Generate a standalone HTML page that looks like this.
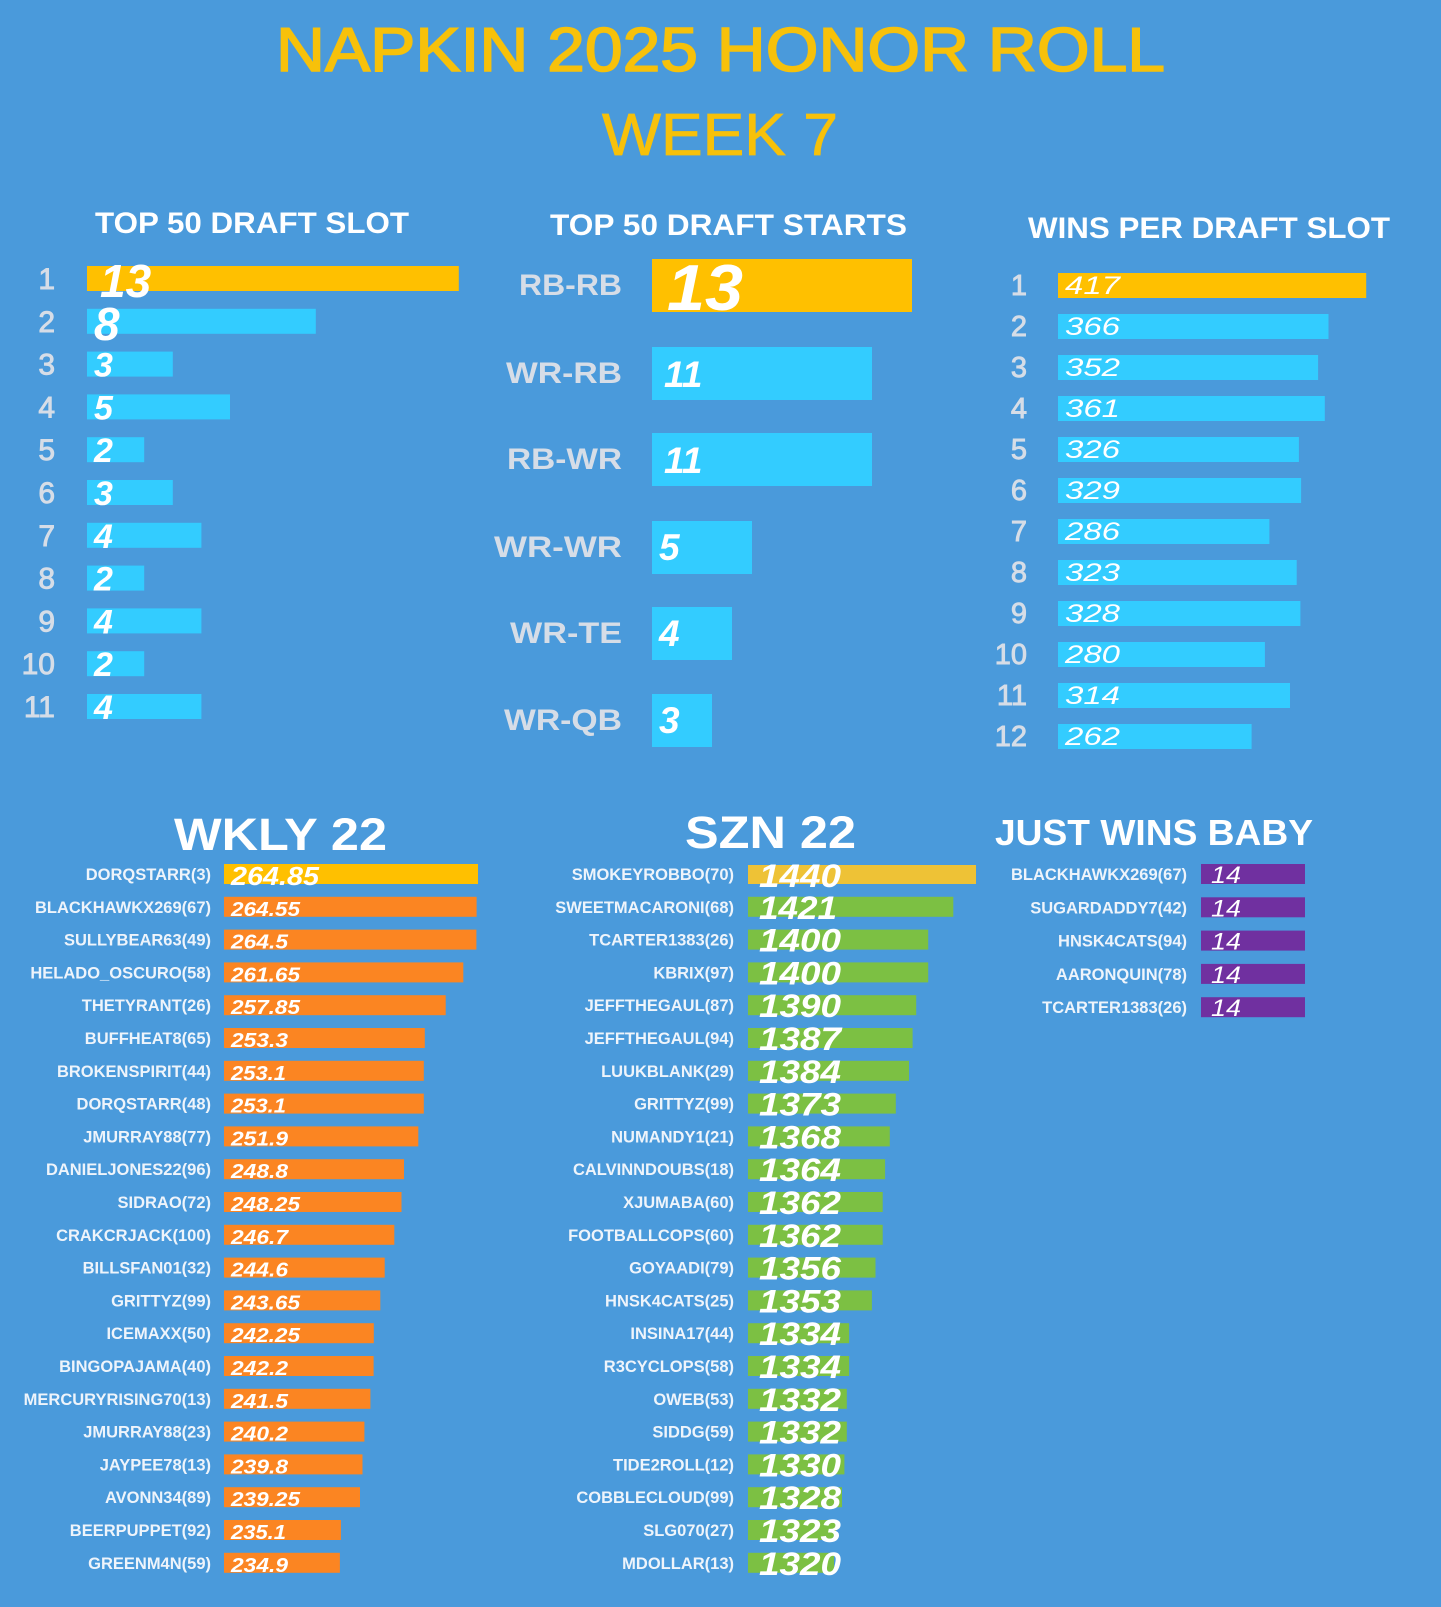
<!DOCTYPE html>
<html><head><meta charset="utf-8">
<style>
html,body{margin:0;padding:0;background:#4a9adb;}
svg{display:block;}
text{font-family:"Liberation Sans",sans-serif;}
.h{fill:#ffffff;font-weight:bold;}
.lg{fill:#d6dde7;font-weight:bold;}
.ln{fill:#d6dde7;stroke:#d6dde7;stroke-width:0.9;}
.v{fill:#ffffff;font-style:italic;font-weight:bold;}
.vr{fill:#ffffff;font-style:italic;}
.bl{fill:#eef4fb;font-weight:bold;font-size:16.5px;}
</style></head>
<body>
<svg width="1441" height="1607" viewBox="0 0 1441 1607" xmlns="http://www.w3.org/2000/svg">
<rect width="1441" height="1607" fill="#4a9adb"/>

<!-- Titles -->
<text x="276" y="71" font-size="62" fill="#f7c10a" stroke="#f7c10a" stroke-width="1.6" textLength="889" lengthAdjust="spacingAndGlyphs">NAPKIN 2025 HONOR ROLL</text>
<text x="602" y="155" font-size="59" fill="#f7c10a" stroke="#f7c10a" stroke-width="0.8" textLength="236" lengthAdjust="spacingAndGlyphs">WEEK 7</text>

<text class="h" x="95" y="233" font-size="30" textLength="314" lengthAdjust="spacingAndGlyphs">TOP 50 DRAFT SLOT</text>
<text class="h" x="550" y="235" font-size="30" textLength="357" lengthAdjust="spacingAndGlyphs">TOP 50 DRAFT STARTS</text>
<text class="h" x="1028" y="238" font-size="30" textLength="362" lengthAdjust="spacingAndGlyphs">WINS PER DRAFT SLOT</text>

<!-- Left chart: TOP 50 DRAFT SLOT -->
<g>
<rect x="87" y="266" width="371.8" height="25" fill="#ffc000"/>
<rect x="87" y="308.8" width="228.8" height="25" fill="#33ccff"/>
<rect x="87" y="351.6" width="85.8" height="25" fill="#33ccff"/>
<rect x="87" y="394.4" width="143" height="25" fill="#33ccff"/>
<rect x="87" y="437.2" width="57.2" height="25" fill="#33ccff"/>
<rect x="87" y="480" width="85.8" height="25" fill="#33ccff"/>
<rect x="87" y="522.8" width="114.4" height="25" fill="#33ccff"/>
<rect x="87" y="565.6" width="57.2" height="25" fill="#33ccff"/>
<rect x="87" y="608.4" width="114.4" height="25" fill="#33ccff"/>
<rect x="87" y="651.2" width="57.2" height="25" fill="#33ccff"/>
<rect x="87" y="694" width="114.4" height="25" fill="#33ccff"/>
</g>
<g class="ln" font-size="30" text-anchor="end">
<text x="55" y="289">1</text>
<text x="55" y="331.8">2</text>
<text x="55" y="374.6">3</text>
<text x="55" y="417.4">4</text>
<text x="55" y="460.2">5</text>
<text x="55" y="503">6</text>
<text x="55" y="545.8">7</text>
<text x="55" y="588.6">8</text>
<text x="55" y="631.4">9</text>
<text x="55" y="674.2">10</text>
<text x="55" y="717">11</text>
</g>
<g class="v">
<text x="100" y="297" font-size="46">13</text>
<text x="94" y="339.8" font-size="46">8</text>
<text x="94" y="376.6" font-size="34">3</text>
<text x="94" y="419.4" font-size="34">5</text>
<text x="94" y="462.2" font-size="34">2</text>
<text x="94" y="505" font-size="34">3</text>
<text x="94" y="547.8" font-size="34">4</text>
<text x="94" y="590.6" font-size="34">2</text>
<text x="94" y="633.4" font-size="34">4</text>
<text x="94" y="676.2" font-size="34">2</text>
<text x="94" y="719" font-size="34">4</text>
</g>

<!-- Middle chart: TOP 50 DRAFT STARTS -->
<rect x="652" y="259" width="260" height="53" fill="#ffc000"/>
<rect x="652" y="347" width="220" height="53" fill="#33ccff"/>
<rect x="652" y="433" width="220" height="53" fill="#33ccff"/>
<rect x="652" y="521" width="100" height="53" fill="#33ccff"/>
<rect x="652" y="607" width="80" height="53" fill="#33ccff"/>
<rect x="652" y="694" width="60" height="53" fill="#33ccff"/>
<g class="lg" font-size="30">
<text x="519" y="295" textLength="103" lengthAdjust="spacingAndGlyphs">RB-RB</text>
<text x="506" y="383" textLength="116" lengthAdjust="spacingAndGlyphs">WR-RB</text>
<text x="507" y="469" textLength="115" lengthAdjust="spacingAndGlyphs">RB-WR</text>
<text x="494" y="557" textLength="128" lengthAdjust="spacingAndGlyphs">WR-WR</text>
<text x="510" y="643" textLength="112" lengthAdjust="spacingAndGlyphs">WR-TE</text>
<text x="504" y="730" textLength="118" lengthAdjust="spacingAndGlyphs">WR-QB</text>
</g>
<g class="v">
<text x="667" y="310" font-size="65" textLength="76" lengthAdjust="spacingAndGlyphs">13</text>
<text x="664" y="387" font-size="37">11</text>
<text x="664" y="473" font-size="37">11</text>
<text x="659" y="560" font-size="37">5</text>
<text x="659" y="646" font-size="37">4</text>
<text x="659" y="733" font-size="37">3</text>
</g>

<!-- Right chart: WINS PER DRAFT SLOT -->
<rect x="1058" y="273" width="308.2" height="25" fill="#ffc000"/>
<rect x="1058" y="314" width="270.5" height="25" fill="#33ccff"/>
<rect x="1058" y="355" width="260.1" height="25" fill="#33ccff"/>
<rect x="1058" y="396" width="266.8" height="25" fill="#33ccff"/>
<rect x="1058" y="437" width="240.9" height="25" fill="#33ccff"/>
<rect x="1058" y="478" width="243.1" height="25" fill="#33ccff"/>
<rect x="1058" y="519" width="211.4" height="25" fill="#33ccff"/>
<rect x="1058" y="560" width="238.7" height="25" fill="#33ccff"/>
<rect x="1058" y="601" width="242.4" height="25" fill="#33ccff"/>
<rect x="1058" y="642" width="206.9" height="25" fill="#33ccff"/>
<rect x="1058" y="683" width="232" height="25" fill="#33ccff"/>
<rect x="1058" y="724" width="193.6" height="25" fill="#33ccff"/>
<g class="ln" font-size="29" text-anchor="end">
<text x="1027" y="295">1</text>
<text x="1027" y="336">2</text>
<text x="1027" y="377">3</text>
<text x="1027" y="418">4</text>
<text x="1027" y="459">5</text>
<text x="1027" y="500">6</text>
<text x="1027" y="541">7</text>
<text x="1027" y="582">8</text>
<text x="1027" y="623">9</text>
<text x="1027" y="664">10</text>
<text x="1027" y="705">11</text>
<text x="1027" y="746">12</text>
</g>
<g class="vr" font-size="25">
<text x="1065" y="294" textLength="55" lengthAdjust="spacingAndGlyphs">417</text>
<text x="1065" y="335" textLength="55" lengthAdjust="spacingAndGlyphs">366</text>
<text x="1065" y="376" textLength="55" lengthAdjust="spacingAndGlyphs">352</text>
<text x="1065" y="417" textLength="55" lengthAdjust="spacingAndGlyphs">361</text>
<text x="1065" y="458" textLength="55" lengthAdjust="spacingAndGlyphs">326</text>
<text x="1065" y="499" textLength="55" lengthAdjust="spacingAndGlyphs">329</text>
<text x="1065" y="540" textLength="55" lengthAdjust="spacingAndGlyphs">286</text>
<text x="1065" y="581" textLength="55" lengthAdjust="spacingAndGlyphs">323</text>
<text x="1065" y="622" textLength="55" lengthAdjust="spacingAndGlyphs">328</text>
<text x="1065" y="663" textLength="55" lengthAdjust="spacingAndGlyphs">280</text>
<text x="1065" y="704" textLength="55" lengthAdjust="spacingAndGlyphs">314</text>
<text x="1065" y="745" textLength="55" lengthAdjust="spacingAndGlyphs">262</text>
</g>

<!-- Bottom headers -->
<text class="h" x="174" y="850" font-size="45" textLength="213" lengthAdjust="spacingAndGlyphs">WKLY 22</text>
<text class="h" x="685" y="848" font-size="45" textLength="171" lengthAdjust="spacingAndGlyphs">SZN 22</text>
<text class="h" x="995" y="845" font-size="36" textLength="318" lengthAdjust="spacingAndGlyphs">JUST WINS BABY</text>

<!-- WKLY 22 -->
<g>
<g transform="translate(0,864)"><rect x="224" y="0" width="254" height="20" fill="#ffc000"/><text class="bl" x="211" y="16" text-anchor="end">DORQSTARR(3)</text><text class="v" x="231" y="21" font-size="26" textLength="88" lengthAdjust="spacingAndGlyphs">264.85</text></g>
<g transform="translate(0,896.8)"><rect x="224" y="0" width="252.6" height="20" fill="#fb8522"/><text class="bl" x="211" y="16" text-anchor="end">BLACKHAWKX269(67)</text><text class="v" x="231" y="19" font-size="20" textLength="69" lengthAdjust="spacingAndGlyphs">264.55</text></g>
<g transform="translate(0,929.6)"><rect x="224" y="0" width="252.4" height="20" fill="#fb8522"/><text class="bl" x="211" y="16" text-anchor="end">SULLYBEAR63(49)</text><text class="v" x="231" y="19" font-size="20" textLength="57" lengthAdjust="spacingAndGlyphs">264.5</text></g>
<g transform="translate(0,962.4)"><rect x="224" y="0" width="239.3" height="20" fill="#fb8522"/><text class="bl" x="211" y="16" text-anchor="end">HELADO_OSCURO(58)</text><text class="v" x="231" y="19" font-size="20" textLength="69" lengthAdjust="spacingAndGlyphs">261.65</text></g>
<g transform="translate(0,995.2)"><rect x="224" y="0" width="221.7" height="20" fill="#fb8522"/><text class="bl" x="211" y="16" text-anchor="end">THETYRANT(26)</text><text class="v" x="231" y="19" font-size="20" textLength="69" lengthAdjust="spacingAndGlyphs">257.85</text></g>
<g transform="translate(0,1028)"><rect x="224" y="0" width="200.8" height="20" fill="#fb8522"/><text class="bl" x="211" y="16" text-anchor="end">BUFFHEAT8(65)</text><text class="v" x="231" y="19" font-size="20" textLength="57" lengthAdjust="spacingAndGlyphs">253.3</text></g>
<g transform="translate(0,1060.8)"><rect x="224" y="0" width="199.8" height="20" fill="#fb8522"/><text class="bl" x="211" y="16" text-anchor="end">BROKENSPIRIT(44)</text><text class="v" x="231" y="19" font-size="20" textLength="55" lengthAdjust="spacingAndGlyphs">253.1</text></g>
<g transform="translate(0,1093.6)"><rect x="224" y="0" width="199.8" height="20" fill="#fb8522"/><text class="bl" x="211" y="16" text-anchor="end">DORQSTARR(48)</text><text class="v" x="231" y="19" font-size="20" textLength="55" lengthAdjust="spacingAndGlyphs">253.1</text></g>
<g transform="translate(0,1126.4)"><rect x="224" y="0" width="194.3" height="20" fill="#fb8522"/><text class="bl" x="211" y="16" text-anchor="end">JMURRAY88(77)</text><text class="v" x="231" y="19" font-size="20" textLength="57" lengthAdjust="spacingAndGlyphs">251.9</text></g>
<g transform="translate(0,1159.2)"><rect x="224" y="0" width="180" height="20" fill="#fb8522"/><text class="bl" x="211" y="16" text-anchor="end">DANIELJONES22(96)</text><text class="v" x="231" y="19" font-size="20" textLength="57" lengthAdjust="spacingAndGlyphs">248.8</text></g>
<g transform="translate(0,1192)"><rect x="224" y="0" width="177.5" height="20" fill="#fb8522"/><text class="bl" x="211" y="16" text-anchor="end">SIDRAO(72)</text><text class="v" x="231" y="19" font-size="20" textLength="69" lengthAdjust="spacingAndGlyphs">248.25</text></g>
<g transform="translate(0,1224.8)"><rect x="224" y="0" width="170.3" height="20" fill="#fb8522"/><text class="bl" x="211" y="16" text-anchor="end">CRAKCRJACK(100)</text><text class="v" x="231" y="19" font-size="20" textLength="57" lengthAdjust="spacingAndGlyphs">246.7</text></g>
<g transform="translate(0,1257.6)"><rect x="224" y="0" width="160.7" height="20" fill="#fb8522"/><text class="bl" x="211" y="16" text-anchor="end">BILLSFAN01(32)</text><text class="v" x="231" y="19" font-size="20" textLength="57" lengthAdjust="spacingAndGlyphs">244.6</text></g>
<g transform="translate(0,1290.4)"><rect x="224" y="0" width="156.3" height="20" fill="#fb8522"/><text class="bl" x="211" y="16" text-anchor="end">GRITTYZ(99)</text><text class="v" x="231" y="19" font-size="20" textLength="69" lengthAdjust="spacingAndGlyphs">243.65</text></g>
<g transform="translate(0,1323.2)"><rect x="224" y="0" width="149.8" height="20" fill="#fb8522"/><text class="bl" x="211" y="16" text-anchor="end">ICEMAXX(50)</text><text class="v" x="231" y="19" font-size="20" textLength="69" lengthAdjust="spacingAndGlyphs">242.25</text></g>
<g transform="translate(0,1356)"><rect x="224" y="0" width="149.6" height="20" fill="#fb8522"/><text class="bl" x="211" y="16" text-anchor="end">BINGOPAJAMA(40)</text><text class="v" x="231" y="19" font-size="20" textLength="57" lengthAdjust="spacingAndGlyphs">242.2</text></g>
<g transform="translate(0,1388.8)"><rect x="224" y="0" width="146.4" height="20" fill="#fb8522"/><text class="bl" x="211" y="16" text-anchor="end">MERCURYRISING70(13)</text><text class="v" x="231" y="19" font-size="20" textLength="57" lengthAdjust="spacingAndGlyphs">241.5</text></g>
<g transform="translate(0,1421.6)"><rect x="224" y="0" width="140.4" height="20" fill="#fb8522"/><text class="bl" x="211" y="16" text-anchor="end">JMURRAY88(23)</text><text class="v" x="231" y="19" font-size="20" textLength="57" lengthAdjust="spacingAndGlyphs">240.2</text></g>
<g transform="translate(0,1454.4)"><rect x="224" y="0" width="138.5" height="20" fill="#fb8522"/><text class="bl" x="211" y="16" text-anchor="end">JAYPEE78(13)</text><text class="v" x="231" y="19" font-size="20" textLength="57" lengthAdjust="spacingAndGlyphs">239.8</text></g>
<g transform="translate(0,1487.2)"><rect x="224" y="0" width="136" height="20" fill="#fb8522"/><text class="bl" x="211" y="16" text-anchor="end">AVONN34(89)</text><text class="v" x="231" y="19" font-size="20" textLength="69" lengthAdjust="spacingAndGlyphs">239.25</text></g>
<g transform="translate(0,1520)"><rect x="224" y="0" width="116.9" height="20" fill="#fb8522"/><text class="bl" x="211" y="16" text-anchor="end">BEERPUPPET(92)</text><text class="v" x="231" y="19" font-size="20" textLength="55" lengthAdjust="spacingAndGlyphs">235.1</text></g>
<g transform="translate(0,1552.8)"><rect x="224" y="0" width="115.9" height="20" fill="#fb8522"/><text class="bl" x="211" y="16" text-anchor="end">GREENM4N(59)</text><text class="v" x="231" y="19" font-size="20" textLength="57" lengthAdjust="spacingAndGlyphs">234.9</text></g>
</g>

<!-- SZN 22 -->
<g>
<g transform="translate(0,864)"><rect x="748" y="1" width="228" height="19" fill="#eec236"/><text class="bl" x="734" y="16" text-anchor="end">SMOKEYROBBO(70)</text><text class="v" x="759" y="23" font-size="32" textLength="82" lengthAdjust="spacingAndGlyphs">1440</text></g>
<g transform="translate(0,896.8)"><rect x="748" y="0" width="205.3" height="20" fill="#7cc043"/><text class="bl" x="734" y="16" text-anchor="end">SWEETMACARONI(68)</text><text class="v" x="759" y="22" font-size="32" textLength="78" lengthAdjust="spacingAndGlyphs">1421</text></g>
<g transform="translate(0,929.6)"><rect x="748" y="0" width="180.2" height="20" fill="#7cc043"/><text class="bl" x="734" y="16" text-anchor="end">TCARTER1383(26)</text><text class="v" x="759" y="22" font-size="32" textLength="82" lengthAdjust="spacingAndGlyphs">1400</text></g>
<g transform="translate(0,962.4)"><rect x="748" y="0" width="180.2" height="20" fill="#7cc043"/><text class="bl" x="734" y="16" text-anchor="end">KBRIX(97)</text><text class="v" x="759" y="22" font-size="32" textLength="82" lengthAdjust="spacingAndGlyphs">1400</text></g>
<g transform="translate(0,995.2)"><rect x="748" y="0" width="168.2" height="20" fill="#7cc043"/><text class="bl" x="734" y="16" text-anchor="end">JEFFTHEGAUL(87)</text><text class="v" x="759" y="22" font-size="32" textLength="82" lengthAdjust="spacingAndGlyphs">1390</text></g>
<g transform="translate(0,1028)"><rect x="748" y="0" width="164.6" height="20" fill="#7cc043"/><text class="bl" x="734" y="16" text-anchor="end">JEFFTHEGAUL(94)</text><text class="v" x="759" y="22" font-size="32" textLength="82" lengthAdjust="spacingAndGlyphs">1387</text></g>
<g transform="translate(0,1060.8)"><rect x="748" y="0" width="161" height="20" fill="#7cc043"/><text class="bl" x="734" y="16" text-anchor="end">LUUKBLANK(29)</text><text class="v" x="759" y="22" font-size="32" textLength="82" lengthAdjust="spacingAndGlyphs">1384</text></g>
<g transform="translate(0,1093.6)"><rect x="748" y="0" width="147.8" height="20" fill="#7cc043"/><text class="bl" x="734" y="16" text-anchor="end">GRITTYZ(99)</text><text class="v" x="759" y="22" font-size="32" textLength="82" lengthAdjust="spacingAndGlyphs">1373</text></g>
<g transform="translate(0,1126.4)"><rect x="748" y="0" width="141.8" height="20" fill="#7cc043"/><text class="bl" x="734" y="16" text-anchor="end">NUMANDY1(21)</text><text class="v" x="759" y="22" font-size="32" textLength="82" lengthAdjust="spacingAndGlyphs">1368</text></g>
<g transform="translate(0,1159.2)"><rect x="748" y="0" width="137.1" height="20" fill="#7cc043"/><text class="bl" x="734" y="16" text-anchor="end">CALVINNDOUBS(18)</text><text class="v" x="759" y="22" font-size="32" textLength="82" lengthAdjust="spacingAndGlyphs">1364</text></g>
<g transform="translate(0,1192)"><rect x="748" y="0" width="134.7" height="20" fill="#7cc043"/><text class="bl" x="734" y="16" text-anchor="end">XJUMABA(60)</text><text class="v" x="759" y="22" font-size="32" textLength="82" lengthAdjust="spacingAndGlyphs">1362</text></g>
<g transform="translate(0,1224.8)"><rect x="748" y="0" width="134.7" height="20" fill="#7cc043"/><text class="bl" x="734" y="16" text-anchor="end">FOOTBALLCOPS(60)</text><text class="v" x="759" y="22" font-size="32" textLength="82" lengthAdjust="spacingAndGlyphs">1362</text></g>
<g transform="translate(0,1257.6)"><rect x="748" y="0" width="127.5" height="20" fill="#7cc043"/><text class="bl" x="734" y="16" text-anchor="end">GOYAADI(79)</text><text class="v" x="759" y="22" font-size="32" textLength="82" lengthAdjust="spacingAndGlyphs">1356</text></g>
<g transform="translate(0,1290.4)"><rect x="748" y="0" width="123.9" height="20" fill="#7cc043"/><text class="bl" x="734" y="16" text-anchor="end">HNSK4CATS(25)</text><text class="v" x="759" y="22" font-size="32" textLength="82" lengthAdjust="spacingAndGlyphs">1353</text></g>
<g transform="translate(0,1323.2)"><rect x="748" y="0" width="101.1" height="20" fill="#7cc043"/><text class="bl" x="734" y="16" text-anchor="end">INSINA17(44)</text><text class="v" x="759" y="22" font-size="32" textLength="82" lengthAdjust="spacingAndGlyphs">1334</text></g>
<g transform="translate(0,1356)"><rect x="748" y="0" width="101.1" height="20" fill="#7cc043"/><text class="bl" x="734" y="16" text-anchor="end">R3CYCLOPS(58)</text><text class="v" x="759" y="22" font-size="32" textLength="82" lengthAdjust="spacingAndGlyphs">1334</text></g>
<g transform="translate(0,1388.8)"><rect x="748" y="0" width="98.8" height="20" fill="#7cc043"/><text class="bl" x="734" y="16" text-anchor="end">OWEB(53)</text><text class="v" x="759" y="22" font-size="32" textLength="82" lengthAdjust="spacingAndGlyphs">1332</text></g>
<g transform="translate(0,1421.6)"><rect x="748" y="0" width="98.8" height="20" fill="#7cc043"/><text class="bl" x="734" y="16" text-anchor="end">SIDDG(59)</text><text class="v" x="759" y="22" font-size="32" textLength="82" lengthAdjust="spacingAndGlyphs">1332</text></g>
<g transform="translate(0,1454.4)"><rect x="748" y="0" width="96.4" height="20" fill="#7cc043"/><text class="bl" x="734" y="16" text-anchor="end">TIDE2ROLL(12)</text><text class="v" x="759" y="22" font-size="32" textLength="82" lengthAdjust="spacingAndGlyphs">1330</text></g>
<g transform="translate(0,1487.2)"><rect x="748" y="0" width="94" height="20" fill="#7cc043"/><text class="bl" x="734" y="16" text-anchor="end">COBBLECLOUD(99)</text><text class="v" x="759" y="22" font-size="32" textLength="82" lengthAdjust="spacingAndGlyphs">1328</text></g>
<g transform="translate(0,1520)"><rect x="748" y="0" width="88" height="20" fill="#7cc043"/><text class="bl" x="734" y="16" text-anchor="end">SLG070(27)</text><text class="v" x="759" y="22" font-size="32" textLength="82" lengthAdjust="spacingAndGlyphs">1323</text></g>
<g transform="translate(0,1552.8)"><rect x="748" y="0" width="86" height="20" fill="#7cc043"/><text class="bl" x="734" y="16" text-anchor="end">MDOLLAR(13)</text><text class="v" x="759" y="22" font-size="32" textLength="82" lengthAdjust="spacingAndGlyphs">1320</text></g>
</g>

<!-- JUST WINS BABY -->
<g>
<g transform="translate(0,864)"><rect x="1201" y="0" width="104" height="20" fill="#7030a0"/><text class="bl" x="1187" y="16" text-anchor="end">BLACKHAWKX269(67)</text><text class="vr" x="1211" y="19" font-size="24" textLength="30" lengthAdjust="spacingAndGlyphs">14</text></g>
<g transform="translate(0,897.3)"><rect x="1201" y="0" width="104" height="20" fill="#7030a0"/><text class="bl" x="1187" y="16" text-anchor="end">SUGARDADDY7(42)</text><text class="vr" x="1211" y="19" font-size="24" textLength="30" lengthAdjust="spacingAndGlyphs">14</text></g>
<g transform="translate(0,930.6)"><rect x="1201" y="0" width="104" height="20" fill="#7030a0"/><text class="bl" x="1187" y="16" text-anchor="end">HNSK4CATS(94)</text><text class="vr" x="1211" y="19" font-size="24" textLength="30" lengthAdjust="spacingAndGlyphs">14</text></g>
<g transform="translate(0,963.9)"><rect x="1201" y="0" width="104" height="20" fill="#7030a0"/><text class="bl" x="1187" y="16" text-anchor="end">AARONQUIN(78)</text><text class="vr" x="1211" y="19" font-size="24" textLength="30" lengthAdjust="spacingAndGlyphs">14</text></g>
<g transform="translate(0,997.2)"><rect x="1201" y="0" width="104" height="20" fill="#7030a0"/><text class="bl" x="1187" y="16" text-anchor="end">TCARTER1383(26)</text><text class="vr" x="1211" y="19" font-size="24" textLength="30" lengthAdjust="spacingAndGlyphs">14</text></g>
</g>
</svg>
</body></html>
